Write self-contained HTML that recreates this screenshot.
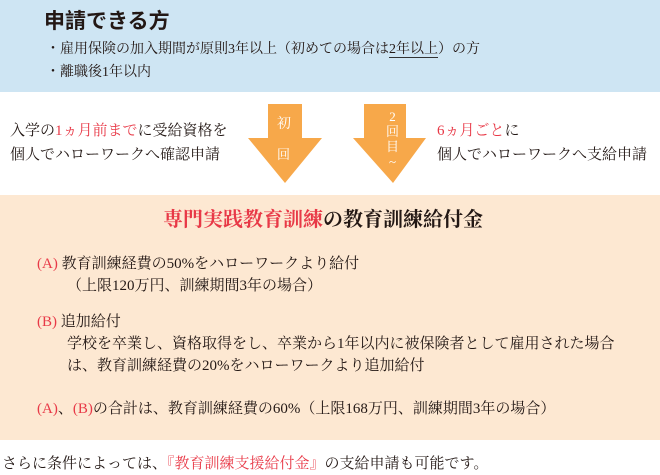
<!DOCTYPE html>
<html><head><meta charset="utf-8"><style>
body{margin:0;width:660px;height:475px;background:#fff;position:relative;overflow:hidden;font-family:"Liberation Serif","Noto Serif CJK SC",serif;color:#231815}
.a{position:absolute;white-space:nowrap;font-size:15px;line-height:15px}
.r{color:#e83947}
</style></head><body>
<div style="position:absolute;left:0;top:0;width:660px;height:92px;background:#cee5f3"></div>
<div style="position:absolute;left:0;top:195px;width:660px;height:245px;background:#fde8d2"></div>
<svg style="position:absolute;left:0;top:0" width="660" height="200">
<polygon points="268,104 302,104 302,138 322,138 285,183 248,138 268,138" fill="#f7a84a"/>
<polygon points="364,104 406,104 406,138 426,138 393,183 353,138 364,138" fill="#f7a84a"/>
</svg>
<div class="a" style="left:44px;top:11px;font-size:21px;line-height:21px;font-family:'Liberation Sans','Noto Sans CJK SC',sans-serif;font-weight:bold">申請できる方</div>
<div class="a" style="left:46px;top:42px;font-size:14px">・雇用保険の加入期間が原則3年以上（初めての場合は<span style="border-bottom:1px solid #333">2年以上</span>）の方</div>
<div class="a" style="left:46px;top:65px;font-size:14px">・離職後1年以内</div>
<div class="a" style="left:277px;top:117px;color:#fff;font-size:14px">初</div>
<div class="a" style="left:277px;top:147px;color:#fff;font-size:13px">回</div>
<div class="a" style="left:380px;top:109px;color:#fff;font-size:13px;line-height:15px;text-align:center;width:25px;white-space:normal">2<br>回<br>目<br>~</div>
<div class="a" style="left:10px;top:124px">入学の<span class="r">1ヵ月前まで</span>に受給資格を</div>
<div class="a" style="left:10px;top:148px">個人でハローワークへ確認申請</div>
<div class="a" style="left:437px;top:124px"><span class="r">6ヵ月ごと</span>に</div>
<div class="a" style="left:437px;top:148px">個人でハローワークへ支給申請</div>
<div class="a" style="left:163px;top:210px;font-size:20px;line-height:20px;font-weight:bold"><span class="r">専門実践教育訓練</span>の教育訓練給付金</div>
<div class="a" style="left:37px;top:257px"><span class="r">(A)</span> 教育訓練経費の50%をハローワークより給付</div>
<div class="a" style="left:67px;top:279px">（上限120万円、訓練期間3年の場合）</div>
<div class="a" style="left:37px;top:315px"><span class="r">(B)</span> 追加給付</div>
<div class="a" style="left:67px;top:337px">学校を卒業し、資格取得をし、卒業から1年以内に被保険者として雇用された場合</div>
<div class="a" style="left:67px;top:359px">は、教育訓練経費の20%をハローワークより追加給付</div>
<div class="a" style="left:37px;top:402px"><span class="r">(A)</span>、<span class="r">(B)</span>の合計は、教育訓練経費の60%（上限168万円、訓練期間3年の場合）</div>
<div class="a" style="left:2px;top:457px">さらに条件によっては、<span class="r">『教育訓練支援給付金』</span>の支給申請も可能です。</div>
</body></html>
